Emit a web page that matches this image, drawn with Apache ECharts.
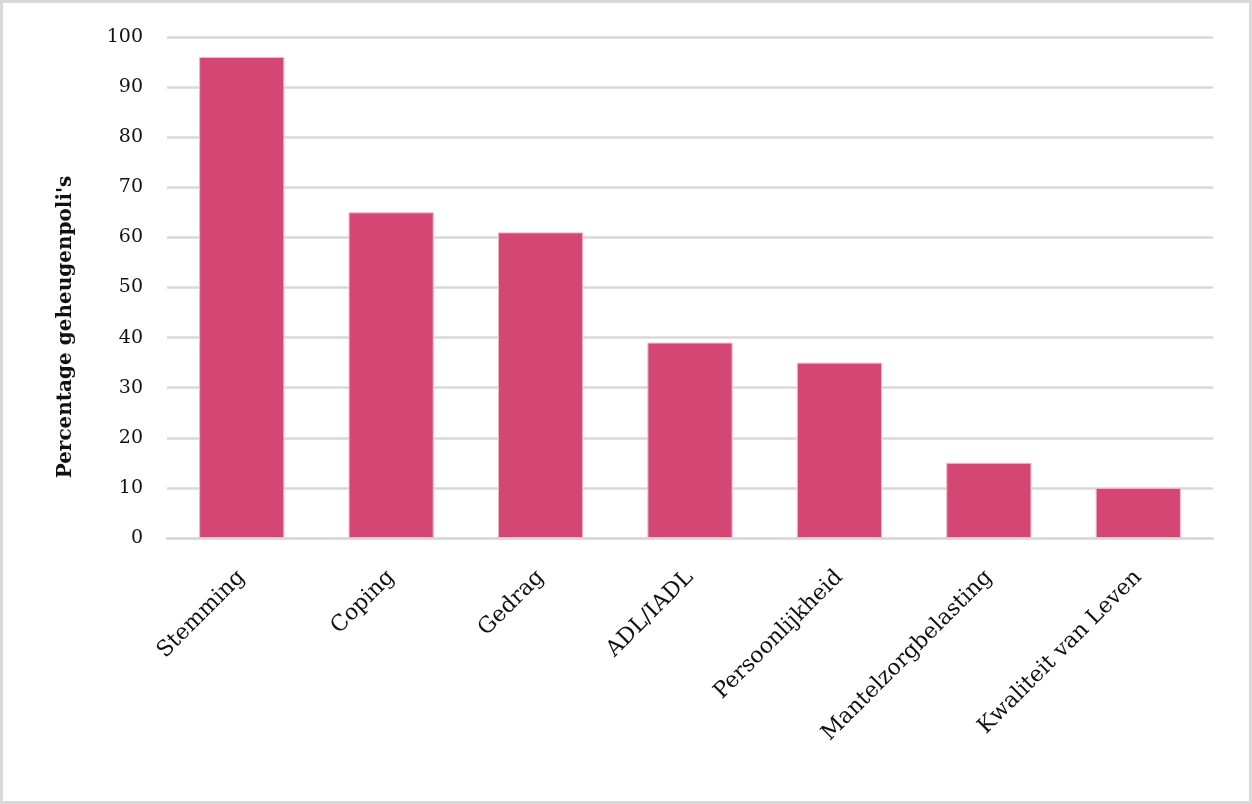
<!DOCTYPE html>
<html>
<head>
<meta charset="utf-8">
<script src="https://cdn.jsdelivr.net/npm/echarts@6/dist/echarts.min.js"></script>
<style>
  html, body { margin: 0; padding: 0; background: #fff; }
  #chart { position: absolute; left: 0; top: 0; width: 1252px; height: 804px; }
  #frame { position: absolute; left: 0; top: 0; width: 1252px; height: 804px;
           box-sizing: border-box; border: 3px solid #d9d9d9; pointer-events: none; }
</style>
</head>
<body>
<div id="chart"></div>
<div id="frame"></div>
<script>
// categorieën en percentages
const categories = ['Stemming', 'Coping', 'Gedrag', 'ADL/IADL', 'Persoonlijkheid', 'Mantelzorgbelasting', 'Kwaliteit van Leven'];
const percentages = [96, 65, 61, 39, 35, 15, 10];
const yTicks = [0, 10, 20, 30, 40, 50, 60, 70, 80, 90, 100];
const yTitle = "Percentage geheugenpoli's";

const font = '"DejaVu Serif", Georgia, serif';

let myChart = echarts.init(document.getElementById('chart'));
myChart.setOption({
  animation: false,
  textStyle: { fontFamily: font },
  grid: { left: 167, right: 39, top: 37, bottom: 266 },
  // as-titel staat iets lager dan het midden van de y-as
  graphic: [
    {
      type: 'text',
      x: 66,
      y: 327,
      rotation: Math.PI / 2,
      style: {
        text: yTitle,
        fontSize: 20,
        fontWeight: 'bold',
        fontFamily: font,
        fill: '#111',
        align: 'center',
        verticalAlign: 'middle'
      }
    }
  ],
  xAxis: {
    type: 'category',
    data: categories,
    axisTick: { show: false },
    axisLine: { lineStyle: { color: '#d9d9d9', width: 2.5 } },
    axisLabel: {
      rotate: 45,
      margin: 36,
      interval: 0,
      color: '#111',
      fontSize: 22,
      fontFamily: font
    }
  },
  yAxis: {
    type: 'value',
    min: yTicks[0],
    max: yTicks[yTicks.length - 1],
    interval: 10,
    axisLine: { show: false },
    axisTick: { show: false },
    axisLabel: { margin: 24, color: '#111', fontSize: 19, fontFamily: font },
    splitLine: { lineStyle: { color: '#d9d9d9', width: 2.5 } }
  },
  series: [
    {
      type: 'bar',
      data: percentages,
      barWidth: '57%',
      itemStyle: { color: '#d44775', borderColor: '#f0b6c9', borderWidth: 1 }
    }
  ]
});
</script>
</body>
</html>
